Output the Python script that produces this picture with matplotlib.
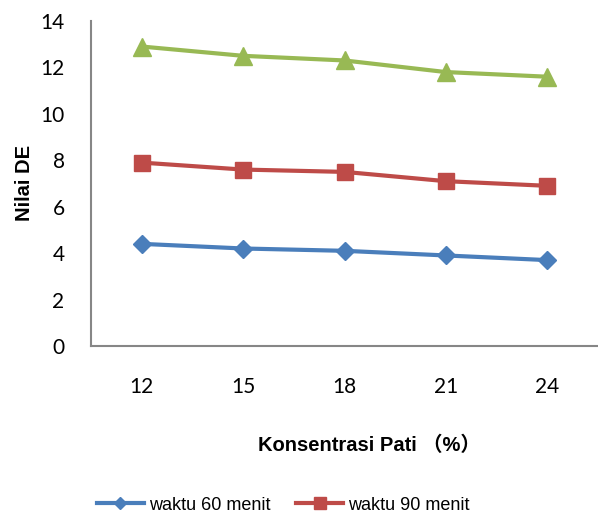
import matplotlib
matplotlib.use("Agg")
import matplotlib.pyplot as plt

# data
konsentrasi = ["12", "15", "18", "21", "24"]
de_60 = [4.4, 4.2, 4.1, 3.9, 3.7]
de_90 = [7.9, 7.6, 7.5, 7.1, 6.9]
de_120 = [12.9, 12.5, 12.3, 11.8, 11.6]
y_ticks = [0, 2, 4, 6, 8, 10, 12, 14]

fig = plt.figure(figsize=(5.98, 5.17), dpi=100)
ax = fig.add_axes([91 / 598, 1 - 346 / 517, 1 - 91 / 598, (346 - 21) / 517])

x = range(len(konsentrasi))
l60, = ax.plot(x, de_60, color="#4A7EBB", lw=3, marker="D", ms=9, label="waktu 60 menit")
l90, = ax.plot(x, de_90, color="#BE4B48", lw=3, marker="s", ms=12, label="waktu 90 menit")
ax.plot(x, de_120, color="#98B954", lw=3, marker="^", ms=13, label="waktu 120 menit")

ax.set_xlim(-0.5, len(konsentrasi) - 0.5)
ax.set_ylim(0, 14)
ax.set_xticks(list(x))
ax.set_xticklabels(konsentrasi)
ax.set_yticks(y_ticks)
ax.tick_params(length=0, labelsize=15)
ax.tick_params(axis="y", pad=19)
ax.tick_params(axis="x", pad=22)
for lab in ax.get_xticklabels() + ax.get_yticklabels():
    lab.set_family("Lato")

for s in ["top", "right"]:
    ax.spines[s].set_visible(False)
for s in ["left", "bottom"]:
    ax.spines[s].set_color("#868686")
    ax.spines[s].set_linewidth(1.5)

fig.text(25 / 598, 1 - 183 / 517, "Nilai DE", rotation=90, ha="center", va="center",
         fontsize=14.5, fontweight="bold", family=["Liberation Sans", "Noto Sans CJK SC"])
fig.text(369 / 598, 1 - 445 / 517, "Konsentrasi Pati （%）", ha="center", va="center",
         fontsize=14.5, fontweight="bold", family=["Liberation Sans", "Noto Sans CJK SC"])

fig.legend(handles=[l60, l90], loc="center left", bbox_to_anchor=(97 / 598, 1 - 505 / 517),
           ncol=2, frameon=False, handlelength=2.6, handletextpad=0.3, columnspacing=1.4,
           markerscale=0.7, prop={"family": "Liberation Sans", "size": 13},
           borderaxespad=0, borderpad=0)

fig.savefig("out.png", dpi=100)
